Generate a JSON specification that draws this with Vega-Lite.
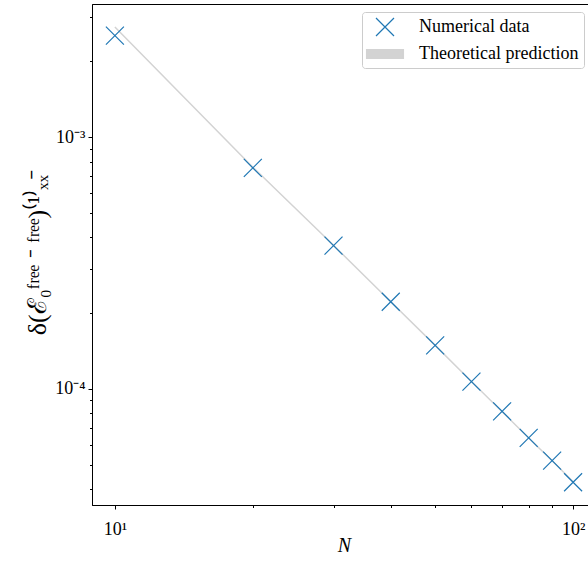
{
  "$schema": "https://vega.github.io/schema/vega-lite/v6.json",
  "width": 504,
  "height": 501,
  "autosize": {"type": "none"},
  "padding": {"left": 92, "top": 4, "right": 0, "bottom": 56},
  "background": "white",
  "config": {
    "view": {"stroke": "black", "strokeWidth": 1},
    "font": "Liberation Serif"
  },
  "datasets": {
    "points": [
      {"N": 10, "value": 0.00253, "series": "Numerical data"},
      {"N": 20, "value": 0.000755, "series": "Numerical data"},
      {"N": 30, "value": 0.000371, "series": "Numerical data"},
      {"N": 40, "value": 0.000222, "series": "Numerical data"},
      {"N": 50, "value": 0.000149, "series": "Numerical data"},
      {"N": 60, "value": 0.000107, "series": "Numerical data"},
      {"N": 70, "value": 0.0000815, "series": "Numerical data"},
      {"N": 80, "value": 0.0000639, "series": "Numerical data"},
      {"N": 90, "value": 0.0000519, "series": "Numerical data"},
      {"N": 100, "value": 0.0000426, "series": "Numerical data"}
    ],
    "theory": [
      {"N": 10, "value": 0.00274},
      {"N": 20, "value": 0.00076},
      {"N": 30, "value": 0.000372},
      {"N": 40, "value": 0.000222},
      {"N": 50, "value": 0.000149},
      {"N": 60, "value": 0.000107},
      {"N": 70, "value": 0.0000812},
      {"N": 80, "value": 0.0000639},
      {"N": 90, "value": 0.0000519},
      {"N": 100, "value": 0.0000428}
    ]
  },
  "layer": [
    {
      "data": {"name": "theory"},
      "mark": {"type": "line", "color": "#d3d3d3", "strokeWidth": 1.5, "clip": true},
      "encoding": {
        "x": {"field": "N", "type": "quantitative"},
        "y": {"field": "value", "type": "quantitative"}
      }
    },
    {
      "data": {"name": "points"},
      "mark": {"type": "point", "filled": true, "size": 324, "strokeWidth": 1.2, "opacity": 1, "fillOpacity": 1, "strokeOpacity": 1, "clip": true},
      "encoding": {
        "x": {
          "field": "N",
          "type": "quantitative",
          "scale": {"type": "log", "domain": [8.913, 112.2], "nice": false},
          "axis": {
            "title": "N",
            "titleFontStyle": "italic",
            "titleFont": "Liberation Serif",
            "titleFontSize": 20,
            "titleFontWeight": "normal",
            "titleColor": "black",
            "titlePadding": -3,
            "values": [10, 20, 30, 40, 50, 60, 70, 80, 90, 100],
            "labelExpr": "datum.value == 10 ? '10¹' : datum.value == 100 ? '10²' : ''",
            "labelFont": "Liberation Serif",
            "labelFontSize": 18,
            "labelColor": "black",
            "labelPadding": 11,
            "labelOverlap": false,
            "labelFlush": false,
            "tickSize": {"condition": {"test": "datum.value == 10 || datum.value == 100", "value": 4}, "value": 2.5},
            "tickColor": "black",
            "domainColor": "black",
            "grid": false
          }
        },
        "y": {
          "field": "value",
          "type": "quantitative",
          "scale": {"type": "log", "domain": [0.0000346, 0.00338], "nice": false},
          "axis": {
            "title": "δ(ℰ₀ᶠʳᵉᵉ ⁻ ᶠʳᵉᵉ)⁽¹⁾ₓₓ̄",
            "titleFont": "Liberation Serif",
            "titleFontSize": 26,
            "titleFontWeight": "normal",
            "titleColor": "black",
            "titlePadding": 4,
            "values": [0.00004, 0.00005, 0.00006, 0.00007, 0.00008, 0.00009, 0.0001, 0.0002, 0.0003, 0.0004, 0.0005, 0.0006, 0.0007, 0.0008, 0.0009, 0.001, 0.002, 0.003],
            "labelExpr": "abs(log(datum.value)/LN10 - round(log(datum.value)/LN10)) < 1e-6 ? (round(log(datum.value)/LN10) == -3 ? '10⁻³' : '10⁻⁴') : ''",
            "labelFont": "Liberation Serif",
            "labelFontSize": 18,
            "labelColor": "black",
            "labelPadding": 3,
            "labelOverlap": false,
            "labelFlush": false,
            "tickSize": {"condition": {"test": "abs(log(datum.value)/LN10 - round(log(datum.value)/LN10)) < 1e-6", "value": 4}, "value": 2.5},
            "tickColor": "black",
            "domainColor": "black",
            "grid": false
          }
        },
        "fill": {
          "field": "series",
          "type": "nominal",
          "scale": {"domain": ["Numerical data", "Theoretical prediction"], "range": ["#1f77b4", "#d3d3d3"]},
          "legend": {
            "title": null,
            "orient": "none",
            "legendX": 270,
            "legendY": 8,
            "direction": "vertical",
            "labelFont": "Liberation Serif",
            "labelFontSize": 18,
            "labelColor": "black",
            "symbolSize": 324,
            "symbolStrokeWidth": 1.2,
            "symbolOffset": 8,
            "labelOffset": 24,
            "rowPadding": 5,
            "padding": 5,
            "strokeColor": "#cccccc",
            "fillColor": "white",
            "cornerRadius": 3
          }
        },
        "stroke": {
          "field": "series",
          "type": "nominal",
          "scale": {"domain": ["Numerical data", "Theoretical prediction"], "range": ["#1f77b4", "#d3d3d3"]},
          "legend": {"title": null, "orient": "none", "legendX": 270, "legendY": 8}
        },
        "shape": {
          "field": "series",
          "type": "nominal",
          "scale": {"domain": ["Numerical data", "Theoretical prediction"], "range": ["M-1,-1L1,1M1,-1L-1,1", "M-2.05,-0.5H2.05V0.5H-2.05Z"]},
          "legend": {"title": null, "orient": "none", "legendX": 270, "legendY": 8}
        }
      }
    }
  ]
}
